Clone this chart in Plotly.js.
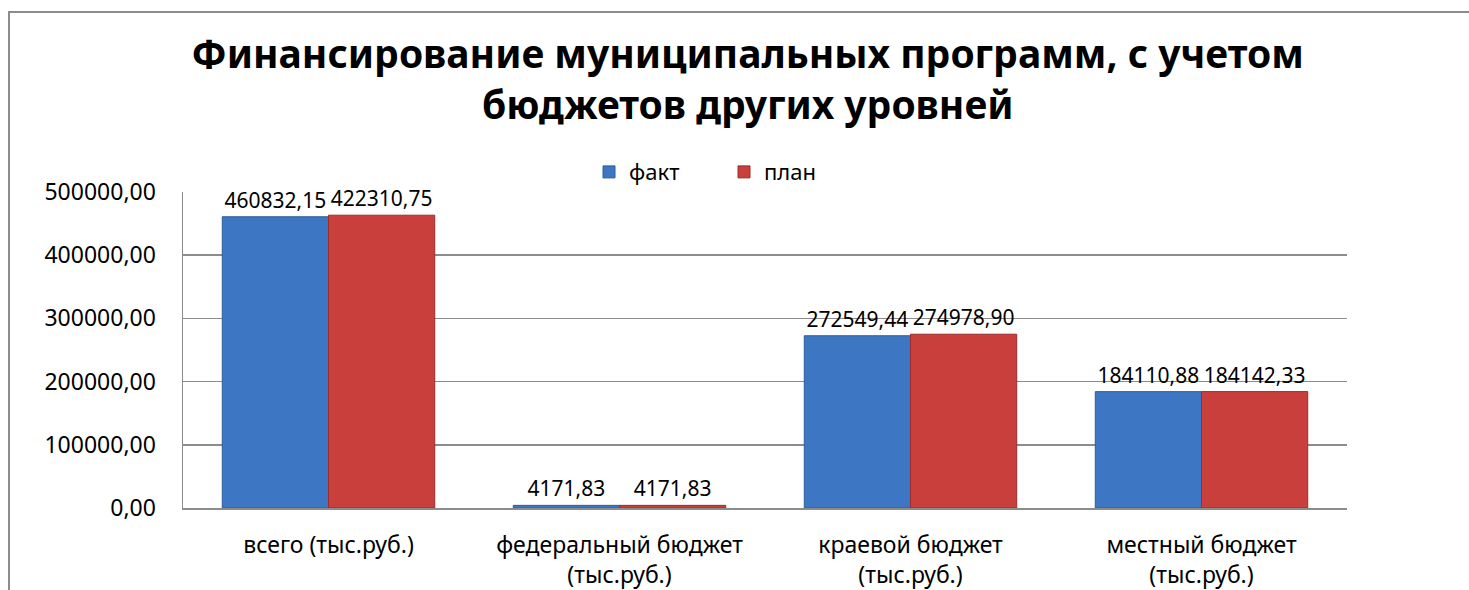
<!DOCTYPE html>
<html>
<head>
<meta charset="utf-8">
<script src="https://cdn.plot.ly/plotly-3.0.1.min.js"></script>
<style>
html,body{margin:0;padding:0;background:#fff;}
#frame{position:absolute;left:8px;top:11px;width:1480px;height:600px;border-left:2px solid #8c8c8c;border-top:2px solid #8c8c8c;}
#chart{position:absolute;left:0;top:0;width:1469px;height:590px;}
</style>
</head>
<body>
<div id="frame"></div>
<div id="chart"></div>
<script>
const categories = ['всего (тыс.руб.)', 'федеральный бюджет<br>(тыс.руб.)', 'краевой бюджет<br>(тыс.руб.)', 'местный бюджет<br>(тыс.руб.)'];
const factValues = [460832.15, 4171.83, 272549.44, 184110.88];
const planValues = [463293.06, 4171.83, 274978.90, 184142.33];
const factLabels = ['460832,15', '4171,83', '272549,44', '184110,88'];
const planLabels = ['422310,75', '4171,83', '274978,90', '184142,33'];
const tickValues = [0, 100000, 200000, 300000, 400000, 500000];
const tickLabels = ['0,00', '100000,00', '200000,00', '300000,00', '400000,00', '500000,00'];
const seriesNames = ['факт', 'план'];

const FONT = "'Noto Sans', 'Open Sans', sans-serif";

const traces = [
  {
    type: 'bar', name: seriesNames[0], x: categories, y: factValues,
    text: factLabels, textposition: 'outside', cliponaxis: false,
    constraintext: 'none',
    textfont: {family: FONT, size: 21, color: '#000'},
    marker: {color: '#3D76C2', line: {color: '#2E5C99', width: 1}},
    hoverinfo: 'skip'
  },
  {
    type: 'bar', name: seriesNames[1], x: categories, y: planValues,
    text: planLabels, textposition: 'outside', cliponaxis: false,
    constraintext: 'none',
    textfont: {family: FONT, size: 21, color: '#000'},
    marker: {color: '#C83F3C', line: {color: '#9A2E2C', width: 1}},
    hoverinfo: 'skip'
  }
];

const layout = {
  width: 1469, height: 590,
  paper_bgcolor: 'rgba(0,0,0,0)', plot_bgcolor: 'rgba(0,0,0,0)',
  margin: {l: 183, r: 122, t: 192, b: 82},
  font: {family: FONT, color: '#000'},
  title: {
    text: '<b>Финансирование муниципальных программ, с учетом<br>бюджетов других уровней</b>',
    font: {family: FONT, size: 39, color: '#000'},
    xref: 'container', x: 0.509, xanchor: 'center',
    yref: 'container', y: 1 - 68/590, yanchor: 'middle'
  },
  barmode: 'group', bargap: 0.27, bargroupgap: 0,
  showlegend: true,
  legend: {
    orientation: 'h', x: (589 - 183) / 1164, xanchor: 'left', y: 1.063, yanchor: 'middle',
    font: {family: FONT, size: 22, color: '#000'}, itemwidth: 30, entrywidth: 90, traceorder: 'normal'
  },
  xaxis: {
    type: 'category', showgrid: false, showline: true, linecolor: '#8c8c8c', linewidth: 1.5,
    ticks: '', ticklabelstandoff: 16, tickfont: {family: FONT, size: 23, color: '#000'}, fixedrange: true
  },
  yaxis: {
    range: [0, 500000], tickvals: tickValues, ticktext: tickLabels,
    showgrid: true, gridcolor: '#8c8c8c', gridwidth: 1.5,
    showline: true, linecolor: '#8c8c8c', linewidth: 1.5,
    zeroline: false, ticks: '', ticklabelstandoff: 21,
    tickfont: {family: FONT, size: 23, color: '#000'}, fixedrange: true
  }
};

Plotly.newPlot('chart', traces, layout, {staticPlot: true});
</script>
</body>
</html>
